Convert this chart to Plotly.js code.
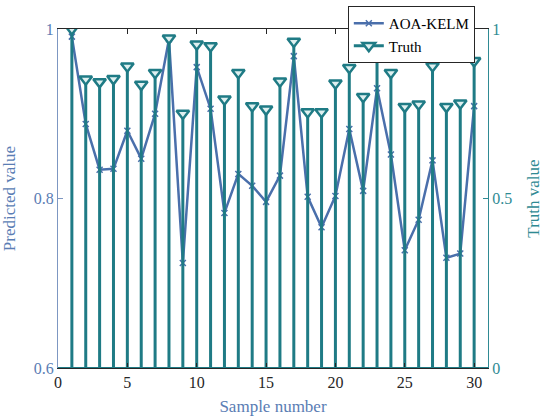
<!DOCTYPE html>
<html>
<head>
<meta charset="utf-8">
<script src="https://cdn.plot.ly/plotly-3.0.1.min.js"></script>
<style>html,body{margin:0;padding:0;background:#fff;}#chart{width:543px;height:416px;}</style>
</head>
<body>
<div id="chart"></div>
<script>
// Data
var samples = [];
for (var i = 1; i <= 30; i++) samples.push(i);
var predicted = [0.991, 0.888, 0.834, 0.835, 0.880, 0.847, 0.900, 0.988, 0.724, 0.955,
                 0.906, 0.783, 0.829, 0.815, 0.796, 0.827, 0.968, 0.802, 0.766, 0.803,
                 0.882, 0.809, 0.930, 0.852, 0.739, 0.775, 0.845, 0.730, 0.735, 0.909];
var truth = [1.000, 0.852, 0.844, 0.853, 0.890, 0.836, 0.871, 0.973, 0.751, 0.955,
             0.950, 0.793, 0.871, 0.773, 0.763, 0.846, 0.963, 0.755, 0.755, 0.840,
             0.886, 0.800, 0.936, 0.871, 0.771, 0.778, 0.891, 0.771, 0.781, 0.906];
var xTicks = [0, 5, 10, 15, 20, 25, 30];
var leftTicks = [0.6, 0.8, 1];
var leftTickText = ['0.6', '0.8', '1'];
var rightTicks = [0, 0.5, 1];
var rightTickText = ['0', '0.5', '1'];

var blue = '#4a6fab';
var axisBlue = '#7d97c2';
var labelBlue = '#5a7db4';
var teal = '#1f7b85';
var labelTeal = '#2f8a93';
var font = '"Liberation Serif", "Times New Roman", Times, serif';

// Build stems from data
var stemX = [], stemY = [];
for (var k = 0; k < samples.length; k++) {
  stemX.push(samples[k], samples[k], null);
  stemY.push(0, truth[k], null);
}

var traces = [
  {
    x: stemX, y: stemY, yaxis: 'y2', mode: 'lines', type: 'scatter',
    line: {color: teal, width: 3}, showlegend: false, hoverinfo: 'skip'
  },
  {
    x: samples, y: predicted, yaxis: 'y', mode: 'lines+markers', type: 'scatter',
    name: 'AOA-KELM',
    line: {color: blue, width: 2.5},
    marker: {symbol: 'x-thin-open', size: 6, color: blue, line: {color: blue, width: 1.5}}
  },
  {
    x: samples, y: truth, yaxis: 'y2', mode: 'markers', type: 'scatter',
    showlegend: false,
    marker: {symbol: 'triangle-down', size: 11, color: '#dff0f0', line: {color: teal, width: 2.5}}
  },
  {
    x: [null], y: [null], yaxis: 'y2', mode: 'lines+markers', type: 'scatter',
    name: 'Truth',
    line: {color: teal, width: 3},
    marker: {symbol: 'triangle-down', size: 11, color: '#dff0f0', line: {color: teal, width: 2.5}}
  }
];

var layout = {
  width: 543, height: 416,
  margin: {l: 58, r: 55, t: 29, b: 48, pad: 0, autoexpand: false},
  paper_bgcolor: '#fff', plot_bgcolor: '#fff',
  font: {family: font, size: 16, color: '#262626'},
  xaxis: {
    range: [0, 31], tickvals: xTicks, ticktext: xTicks.map(String),
    ticks: 'inside', ticklen: 5, tickcolor: '#262626',
    showline: true, linecolor: '#262626', linewidth: 1, mirror: 'ticks',
    showgrid: false, zeroline: false, automargin: false,
    tickfont: {family: font, size: 16, color: '#262626'},
    title: {text: 'Sample number', font: {family: font, size: 17, color: labelBlue}}
  },
  yaxis: {
    range: [0.6, 1], tickvals: leftTicks, ticktext: leftTickText,
    ticks: 'inside', ticklen: 5, tickcolor: axisBlue,
    showline: true, linecolor: axisBlue, linewidth: 1,
    showgrid: false, zeroline: false, automargin: false,
    tickfont: {family: font, size: 16, color: labelBlue},
    title: {text: 'Predicted value', font: {family: font, size: 17, color: labelBlue}}
  },
  yaxis2: {
    range: [0, 1], tickvals: rightTicks, ticktext: rightTickText,
    overlaying: 'y', side: 'right', anchor: 'x',
    ticks: 'inside', ticklen: 5, tickcolor: labelTeal,
    showline: true, linecolor: labelTeal, linewidth: 1,
    showgrid: false, zeroline: false, automargin: false,
    tickfont: {family: font, size: 16, color: labelTeal},
    title: {text: 'Truth value', font: {family: font, size: 17, color: labelTeal}}
  },
  shapes: [
    {type: 'line', xref: 'paper', yref: 'y2', x0: 0, x1: 1, y0: 0, y1: 0,
     line: {color: teal, width: 2}, layer: 'above'}
  ],
  legend: {
    x: 0.674, y: 1.068, xanchor: 'left', yanchor: 'top',
    bgcolor: '#fff', bordercolor: '#262626', borderwidth: 1,
    font: {family: font, size: 15, color: '#000'},
    tracegroupgap: 0, itemwidth: 30
  },
  showlegend: true
};

Plotly.newPlot('chart', traces, layout, {displayModeBar: false, staticPlot: true});
</script>
</body>
</html>
